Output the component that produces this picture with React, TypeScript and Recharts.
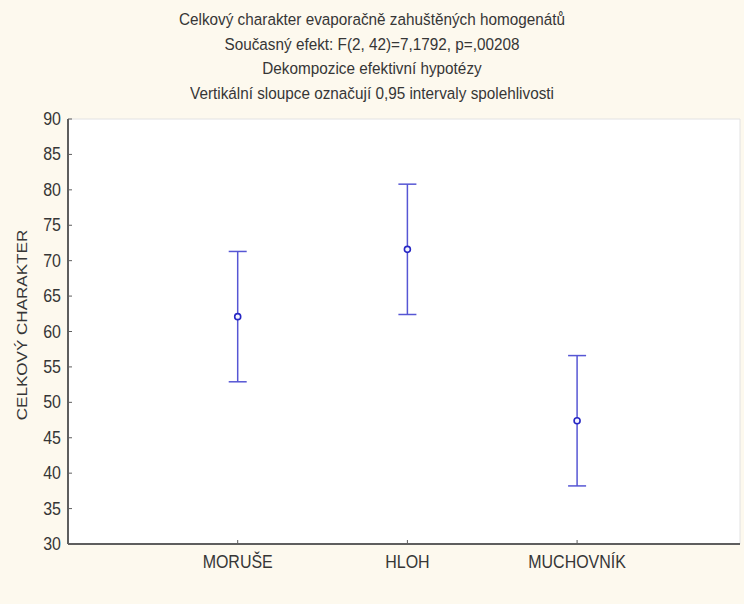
import React from 'react';
import { ScatterChart, Scatter, ErrorBar, XAxis, YAxis, CartesianGrid } from 'recharts';

const categories = ['MORUŠE', 'HLOH', 'MUCHOVNÍK'];
const means = [62.1, 71.6, 47.4];
const lowerBounds = [52.9, 62.4, 38.2];
const upperBounds = [71.3, 80.8, 56.6];
const yTicks = [30, 35, 40, 45, 50, 55, 60, 65, 70, 75, 80, 85, 90];

const titleLines = [
  'Celkový charakter evaporačně zahuštěných homogenátů',
  'Současný efekt: F(2, 42)=7,1792, p=,00208',
  'Dekompozice efektivní hypotézy',
  'Vertikální sloupce označují 0,95 intervaly spolehlivosti',
];

const FONT = '"Liberation Sans", Arial, sans-serif';
const TEXT = '#363636';
const AXIS = '#5e5e5e';
const PLOT_LEFT = 68;
const PLOT_BOTTOM = 544;

const points = categories.map((name, i) => ({
  name,
  x: i + 1,
  mean: means[i],
  ci: [means[i] - lowerBounds[i], upperBounds[i] - means[i]],
}));

// tick text is slightly taller than wide, like the rest of the lettering
const YTick = (props: any) => {
  const { x, y, payload } = props;
  return (
    <g>
      <line x1={PLOT_LEFT} x2={PLOT_LEFT + 4} y1={y} y2={y} stroke={AXIS} strokeWidth={1} />
      <text
        transform={`translate(${x},${y + 6}) scale(1,1.1)`}
        textAnchor="end"
        fontSize={16}
        fontFamily={FONT}
        fill={TEXT}
      >
        {payload.value}
      </text>
    </g>
  );
};

const XTick = (props: any) => {
  const { x, payload } = props;
  return (
    <g>
      <line x1={x} x2={x} y1={PLOT_BOTTOM} y2={PLOT_BOTTOM - 4} stroke={AXIS} strokeWidth={1} />
      <text
        transform={`translate(${x},${PLOT_BOTTOM + 24}) scale(1,1.1)`}
        textAnchor="middle"
        fontSize={16}
        fontFamily={FONT}
        fill={TEXT}
      >
        {categories[payload.value - 1]}
      </text>
    </g>
  );
};

const Marker = (props: any) => {
  const { cx, cy } = props;
  return <circle cx={cx} cy={cy} r={3} fill="#f4f4ff" stroke="#2626c4" strokeWidth={1.6} />;
};

export default function App() {
  return (
    <div
      style={{
        position: 'absolute',
        left: 0,
        top: 0,
        width: 744,
        height: 604,
        background: '#fdf9ee',
        fontFamily: FONT,
      }}
    >
      {titleLines.map((line, i) => (
        <div
          key={i}
          style={{
            position: 'absolute',
            left: 0,
            width: 744,
            top: 10 + i * 24.5,
            textAlign: 'center',
            fontSize: 15.3,
            color: TEXT,
            lineHeight: '18px',
            transform: 'scaleY(1.12)',
          }}
        >
          {line}
        </div>
      ))}
      <div
        style={{
          position: 'absolute',
          left: 22,
          top: 325,
          transform: 'translate(-50%, -50%) rotate(-90deg) scaleX(1.1)',
          whiteSpace: 'nowrap',
          fontSize: 15.5,
          color: TEXT,
        }}
      >
        CELKOVÝ CHARAKTER
      </div>
      <div style={{ position: 'absolute', left: 0, top: 0 }}>
        <ScatterChart width={744} height={604} margin={{ top: 119, right: 4, bottom: 0, left: 0 }}>
          <CartesianGrid stroke="#e2e2e2" fill="#ffffff" />
          <XAxis
            xAxisId="main"
            type="number"
            dataKey="x"
            domain={[0, 3.96]}
            ticks={[1, 2, 3]}
            height={60}
            tickSize={0}
            tickLine={false}
            axisLine={{ stroke: AXIS, strokeWidth: 2 }}
            tick={<XTick />}
          />
          <XAxis
            xAxisId="top"
            orientation="top"
            type="number"
            domain={[0, 3.96]}
            height={0}
            tick={false}
            tickLine={false}
            axisLine={{ stroke: AXIS, strokeWidth: 2 }}
          />
          <YAxis
            yAxisId="main"
            type="number"
            dataKey="mean"
            domain={[30, 90]}
            ticks={yTicks}
            width={68}
            tickSize={0}
            tickMargin={7}
            tickLine={false}
            axisLine={{ stroke: AXIS, strokeWidth: 2 }}
            tick={<YTick />}
          />
          <YAxis
            yAxisId="right"
            orientation="right"
            type="number"
            domain={[30, 90]}
            width={0}
            tick={false}
            tickLine={false}
            axisLine={{ stroke: '#e4e4e4', strokeWidth: 1 }}
          />
          <Scatter
            data={points}
            xAxisId="main"
            yAxisId="main"
            dataKey="mean"
            shape={<Marker />}
            isAnimationActive={false}
          >
            <ErrorBar
              dataKey="ci"
              direction="y"
              width={9}
              stroke="#5656d4"
              strokeWidth={1.5}
              isAnimationActive={false}
            />
          </Scatter>
        </ScatterChart>
      </div>
    </div>
  );
}
